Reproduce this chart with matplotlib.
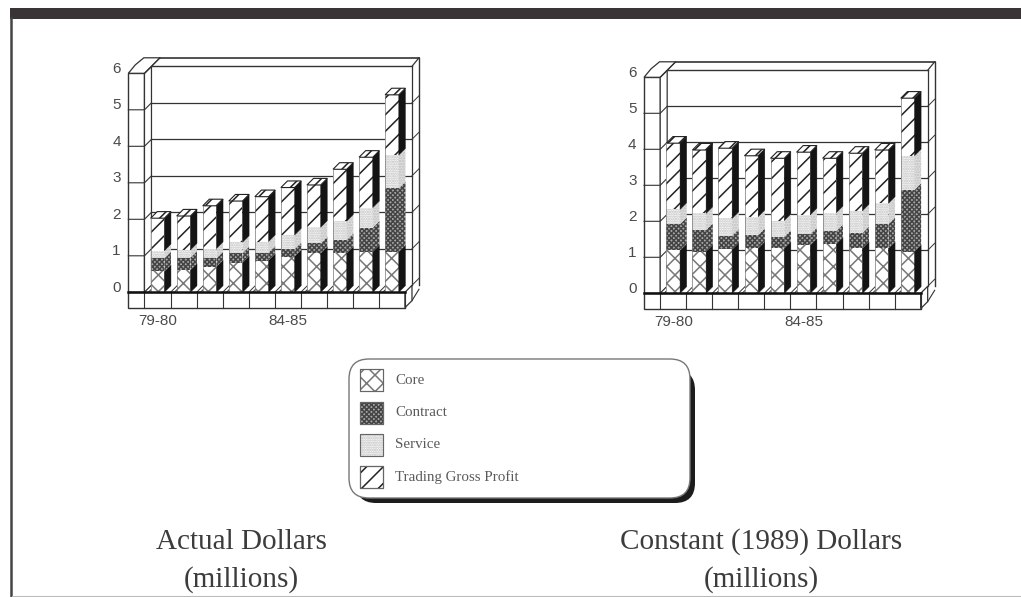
import matplotlib
matplotlib.use("Agg")
import matplotlib.pyplot as plt
import numpy as np
from matplotlib.patches import FancyBboxPatch, Polygon, Rectangle

W, H = 1021, 597

SERIES = ["Core", "Contract", "Service", "Trading Gross Profit"]
X_LABELS = {0: "79-80", 5: "84-85"}
Y_TICKS = [0, 1, 2, 3, 4, 5, 6]

actual_core = [0.57, 0.61, 0.70, 0.81, 0.87, 0.98, 1.07, 1.07, 1.11, 1.11]
actual_contract = [0.36, 0.34, 0.23, 0.26, 0.22, 0.20, 0.27, 0.36, 0.66, 1.74]
actual_service = [0.21, 0.21, 0.27, 0.30, 0.30, 0.39, 0.44, 0.52, 0.55, 0.91]
actual_trading = [0.89, 0.93, 1.17, 1.13, 1.23, 1.30, 1.16, 1.42, 1.38, 1.65]

constant_core = [1.19, 1.16, 1.22, 1.25, 1.25, 1.34, 1.37, 1.25, 1.25, 1.16]
constant_contract = [0.73, 0.60, 0.38, 0.37, 0.32, 0.30, 0.36, 0.42, 0.67, 1.71]
constant_service = [0.41, 0.46, 0.48, 0.51, 0.45, 0.54, 0.51, 0.62, 0.58, 0.95]
constant_trading = [1.84, 1.76, 1.95, 1.69, 1.73, 1.74, 1.51, 1.60, 1.48, 1.60]

# front face: fill, hatch, hatch colour; side face: fill, hatch, hatch colour
STYLES = [
    dict(fc="white", hatch="xx", key_hatch="xx", ec="#777777", side="#141414", side_hatch=None),
    dict(fc="#a8a8a8", hatch="xxxxxxx", key_hatch="xxxxxxx", ec="#444444", side="#a8a8a8", side_hatch="xxxxxxx"),
    dict(fc="#f8f8f8", hatch=".......", key_hatch=".......", ec="#c0c0c0", side="#dedede", side_hatch="......"),
    dict(fc="white", hatch="//", key_hatch="//", ec="#222222", side="#141414", side_hatch=None),
]

PX_X = 26.05      # pixels per category
BAR_W = 13.7      # bar width, px
DEPTH = 6.6       # bar depth, px
BACK = 7.0        # back wall offset, px
OUTER = 15.5      # outer rim offset, px


def make_axes(fig, x0, y0, py):
    """Axes covering the whole figure, with category/value data units."""
    ax = fig.add_axes([0, 0, 1, 1])
    ax.set_xlim(-x0 / PX_X, (W - x0) / PX_X)
    ax.set_ylim((y0 - H) / py, y0 / py)
    ax.axis("off")
    ax.patch.set_alpha(0)
    return ax


def poly(ax, pts, z=2, fc="white", ec="#333333", lw=0.9, **kw):
    ax.add_patch(Polygon(pts, closed=True, fc=fc, ec=ec, lw=lw, zorder=z, **kw))


def draw_frame(ax, py, n):
    dx1, dy1 = BACK / PX_X, BACK / py
    dx2, dy2 = OUTER / PX_X, OUTER / py
    bw = BAR_W / PX_X
    left = -0.5 - 0.62
    post = -0.5
    right = n - 0.5 + 0.0
    c = "#333333"

    # back wall and rim
    ax.plot([post + dx1, right + dx1], [6 + dy1, 6 + dy1], color=c, lw=1, zorder=1)
    ax.plot([post + dx2, right + 2 * dx1], [6 + dy2, 6 + dy2], color=c, lw=1.2, zorder=1)
    ax.plot([right + dx1, right + dx1], [0 + dy1, 6 + dy1], color=c, lw=0.9, zorder=1)
    ax.plot([right + 2 * dx1, right + 2 * dx1], [dy1, 6 + dy2], color=c, lw=1, zorder=1)
    ax.plot([right + dx1, right + 2 * dx1], [6 + dy1, 6 + dy2], color=c, lw=0.9, zorder=1)
    for v in Y_TICKS[1:-1]:
        ax.plot([post + dx1, right + dx1], [v + dy1, v + dy1], color=c, lw=0.9, zorder=1)
    for v in Y_TICKS[:-1]:
        ax.plot([right + dx1, right + 2 * dx1], [v + dy1, v + 2 * dy1], color=c, lw=0.7, zorder=1)

    # left post
    ax.add_patch(Rectangle((left, 0), post - left, 6, fc="white", ec=c, lw=1, zorder=3))
    poly(ax, [(post, 0), (post + dx1, dy1), (post + dx1, 6 + dy1), (post, 6)], z=3)
    poly(ax, [(left, 6), (left + dx1, 6 + dy1 + 0.04), (left + dx2, 6 + dy2), (post + dx2, 6 + dy2),
              (post + dx1, 6 + dy1), (post, 6)], z=3)
    ax.plot([post, post + dx2], [6, 6 + dy2], color=c, lw=0.8, zorder=3)
    for v in Y_TICKS[1:-1]:
        ax.plot([left, post, post + dx1], [v, v, v + dy1], color=c, lw=0.8, zorder=3)

    # floor plate and its dividers
    floor = -46 / 3 / py
    ax.add_patch(Rectangle((left, floor), right - left, -floor, fc="white", ec=c, lw=1, zorder=3))
    poly(ax, [(right, floor), (right + dx1, floor + dy1), (right + dx1, dy1), (right, 0)], z=3)
    ax.plot([right + dx1, right + 2 * dx1], [floor + dy1, floor + 2 * dy1 + 0.12], color=c, lw=0.8, zorder=1)
    for i in range(n + 1):
        ax.plot([i - 0.5, i - 0.5], [floor, 0], color=c, lw=0.8, zorder=3)
    # floor tiles in the gaps between bars
    for i in range(n):
        x = i - 0.5
        poly(ax, [(x, 0), (x + bw * 0.28, 0), (x + bw * 0.28 + dx1, dy1), (x + dx1, dy1)], z=4, lw=0.7)
    ax.plot([left, right], [0, 0], color="#111111", lw=1.8, zorder=9)


def draw_stack(ax, py, values):
    n = len(values[0])
    x = np.arange(n)
    bw = BAR_W / PX_X
    dx, dy = DEPTH / PX_X, DEPTH / py
    bottoms = np.zeros(n)
    for seg, st in zip(values, STYLES):
        seg = np.asarray(seg)
        ax.bar(x, seg, bw, bottom=bottoms, color=st["fc"], edgecolor=st["ec"], hatch=st["hatch"],
               linewidth=0, zorder=6)
        for i in range(n):
            xr = x[i] + bw / 2
            b, t = bottoms[i], bottoms[i] + seg[i]
            if st["side_hatch"]:
                ax.add_patch(Polygon([(xr, b), (xr + dx, b + dy), (xr + dx, t + dy), (xr, t)], closed=True,
                                     fc=st["side"], ec=st["ec"], hatch=st["side_hatch"], lw=0, zorder=6))
            else:
                ax.add_patch(Polygon([(xr, b), (xr + dx, b + dy), (xr + dx, t + dy), (xr, t)], closed=True,
                                     fc=st["side"], ec=st["side"], lw=0.3, zorder=6))
        bottoms = bottoms + seg

    # outlines of the front faces and the lids
    for i in range(n):
        xl, xr = x[i] - bw / 2, x[i] + bw / 2
        top = bottoms[i]
        ax.add_patch(Polygon([(xl, top), (xl + dx, top + dy), (xr + dx, top + dy), (xr, top)], closed=True,
                             fc="white", ec="#222222", hatch="///", lw=0.8, zorder=7))
        ax.plot([xl, xl], [0, top], color="#777777", lw=0.5, zorder=7)


def draw_labels(ax, py):
    left = -0.5 - 0.62
    for v in Y_TICKS:
        ax.text(left - 0.45, v + 4.5 / py, str(v), ha="center", va="center", fontsize=11,
                family="Liberation Sans", color="#4a4a4a", zorder=10)
    for i, lab in X_LABELS.items():
        ax.text(i, -29 / py, lab, ha="center", va="center", fontsize=11,
                family="Liberation Sans", color="#4a4a4a", zorder=10)


def draw_chart(fig, x0, y0, py, values):
    ax = make_axes(fig, x0, y0, py)
    draw_frame(ax, py, len(values[0]))
    draw_stack(ax, py, values)
    draw_labels(ax, py)
    return ax


def draw_legend(fig):
    ax = fig.add_axes([0, 0, 1, 1])
    ax.set_xlim(0, W)
    ax.set_ylim(H, 0)
    ax.axis("off")
    ax.patch.set_alpha(0)

    ax.add_patch(FancyBboxPatch((356, 370), 339, 133, boxstyle="round,pad=0,rounding_size=20",
                                fc="#1c1c1c", ec="none", zorder=1))
    ax.add_patch(FancyBboxPatch((349, 359), 341, 139, boxstyle="round,pad=0,rounding_size=20",
                                fc="white", ec="#777777", lw=1, zorder=2))

    tops = [369, 402, 434, 466]
    for name, st, y in zip(SERIES, STYLES, tops):
        ax.add_patch(Rectangle((360, y), 23, 21.5, fc=st["fc"], ec=st["ec"], hatch=st["key_hatch"], lw=0.8, zorder=3))
        ax.add_patch(Rectangle((360, y), 23, 21.5, fc="none", ec="#666666", lw=0.8, zorder=3))
        ax.text(395, y + 11, name, ha="left", va="center", fontsize=10.8, family="Liberation Serif",
                color="#5a5a5a", zorder=3)

    # page border and banner
    ax.add_patch(Rectangle((9.5, 8), W, 11, fc="#3a3436", ec="none", zorder=3))
    ax.plot([10.5, 10.5], [18, H], color="#444444", lw=1.8, zorder=3)
    ax.plot([12, W], [595.5, 595.5], color="#bbbbbb", lw=0.8, zorder=3)

    # captions below each chart
    for cx, title in [(241, "Actual Dollars"), (761, "Constant (1989) Dollars")]:
        ax.text(cx, 542, title, ha="center", va="center", fontsize=21, family="Liberation Serif",
                color="#3c3c3c", zorder=3)
        ax.text(cx, 580, "(millions)", ha="center", va="center", fontsize=21, family="Liberation Serif",
                color="#3c3c3c", zorder=3)


def main():
    plt.rcParams["hatch.linewidth"] = 1.1
    fig = plt.figure(figsize=(W / 100, H / 100), dpi=100, facecolor="white")
    draw_chart(fig, 157.5, 292.3, 36.5, [actual_core, actual_contract, actual_service, actual_trading])
    draw_chart(fig, 673.2, 293.3, 36.0, [constant_core, constant_contract, constant_service, constant_trading])
    draw_legend(fig)
    fig.savefig("out.png", dpi=100)


if __name__ == "__main__":
    main()
